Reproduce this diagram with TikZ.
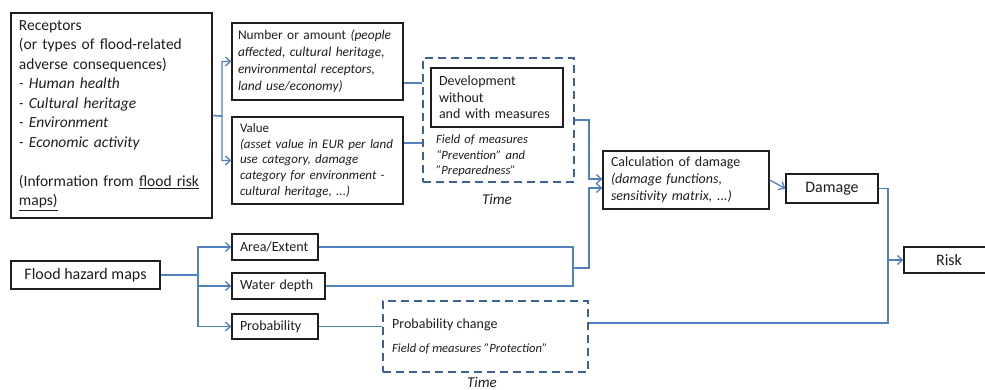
\documentclass[tikz,border=0pt]{standalone}
\usepackage{fontspec}
\setmainfont{Carlito}
\usetikzlibrary{arrows.meta,calc}
\definecolor{linkc}{RGB}{79,129,189}
\definecolor{dashc}{RGB}{60,98,148}
\definecolor{txtc}{RGB}{30,30,30}
\begin{document}
\begin{tikzpicture}[x=1pt,y=-1pt,
  box/.style={draw=txtc, line width=1.3pt, inner xsep=8pt, inner ysep=0pt, align=left, text=txtc, anchor=center},
  cbox/.style={draw=txtc, line width=1.3pt, inner sep=0pt, align=center, text=txtc, anchor=center},
  dbox/.style={draw=dashc, line width=2pt, dash pattern=on 8pt off 5pt, inner sep=0pt, anchor=center},
  plain/.style={inner sep=0pt, text=txtc, align=left},
  link/.style={draw=linkc, line width=1.3pt},
  arr/.style={link, -{Straight Barb[length=5pt,width=9pt]}},
  nohy/.style={execute at begin node={\hyphenpenalty=10000\exhyphenpenalty=10000}},
]
\useasboundingbox (0,0) rectangle (985,390);

% left receptor box
\node[box, nohy, minimum width=201pt, minimum height=205pt, text width=185pt,
      font=\fontsize{15.5}{19.5}\selectfont] (rec) at (111.5,115.5)
  {Receptors\\(or types of flood-related\\adverse consequences)\\
   \textit{- Human health}\\\textit{- Cultural heritage}\\\textit{- Environment}\\
   \textit{- Economic activity}\\[19.5pt]
   (Information from \underline{flood risk}\\\underline{maps)}};

\node[box, nohy, inner xsep=6pt, minimum width=171pt, minimum height=77pt, text width=159pt,
      font=\fontsize{13.4}{17}\selectfont] (num) at (317.5,61.5)
  {\mbox{Number or amount \textit{(people}}\\\textit{affected, cultural heritage,}\\
   \textit{environmental receptors,}\\\textit{land use/economy)}};

\node[box, nohy, minimum width=171pt, minimum height=87pt, text width=155pt,
      font=\fontsize{13}{15.8}\selectfont] (val) at (317.5,160.5)
  {Value\\\textit{(asset value in EUR per land}\\\textit{use category, damage}\\
   \textit{category for environment -}\\\textit{cultural heritage, ...)}};

% dashed box 1
\node[dbox, minimum width=151pt, minimum height=124pt] (dash1) at (498.5,120) {};
\node[box, nohy, minimum width=132pt, minimum height=59pt, text width=116pt,
      font=\fontsize{14}{16.5}\selectfont] (dev) at (497,97.5)
  {Development\\without\\and with measures};
\node[plain, nohy, anchor=base west, text width=130pt, font=\fontsize{12.6}{15.5}\selectfont\itshape]
  (field1) at (436,144) {Field of measures\\“Prevention” and\\"Preparedness"};
\node[plain, font=\fontsize{15}{18}\selectfont\itshape] (time1) at (497,199) {Time};

% calculation, damage, risk
\node[box, nohy, minimum width=166pt, minimum height=58pt, text width=150pt,
      font=\fontsize{14}{17}\selectfont] (calc) at (686,180)
  {Calculation of damage\\\textit{(damage functions,}\\\textit{sensitivity matrix, ...)}};
\node[cbox, minimum width=92pt, minimum height=29pt, font=\fontsize{16}{19}\selectfont]
  (dmg) at (832,188.5) {Damage};
\node[cbox, minimum width=90pt, minimum height=26pt, font=\fontsize{16}{19}\selectfont]
  (risk) at (949,260) {Risk};

% hazard branch
\node[cbox, minimum width=149pt, minimum height=28pt, font=\fontsize{16}{19}\selectfont]
  (fhm) at (85.5,275) {Flood hazard maps};
\node[box, minimum width=86pt, minimum height=26pt, text width=70pt,
      font=\fontsize{14}{17}\selectfont] (area) at (275,247) {Area/Extent};
\node[box, minimum width=93pt, minimum height=26pt, text width=77pt,
      font=\fontsize{14}{17}\selectfont] (wd) at (278.5,286) {Water depth};
\node[box, minimum width=86pt, minimum height=25pt, text width=70pt,
      font=\fontsize{14}{17}\selectfont] (prob) at (275,326.5) {Probability};

% dashed box 2
\node[dbox, minimum width=205pt, minimum height=71pt] (dash2) at (485.5,336.5) {};
\node[plain, anchor=base west, font=\fontsize{14}{17}\selectfont] (pc) at (392,328)
  {Probability change};
\node[plain, anchor=base west, font=\fontsize{12.6}{15}\selectfont\itshape] (pf) at (392,352)
  {Field of measures "Protection"};
\node[plain, font=\fontsize{15}{18}\selectfont\itshape] (time2) at (482,382) {Time};

% connectors
\coordinate (jr) at (222,116);
\coordinate (jc) at (589,0);
\coordinate (jb) at (573,0);
\coordinate (jd) at (888,0);
\coordinate (jh) at (198,0);

\draw[arr] (rec.east) -- (jr) |- (num.west);
\draw[arr] (rec.east) -- (jr) |- (val.west);
\draw[link] (num.east |- 0,83) -- (dash1.west |- 0,83);
\draw[link] (val.east |- 0,143) -- (dash1.west |- 0,143);
\draw[arr] (dash1.east |- 0,120) -- (jc |- 0,120) -- (jc |- 0,179) -- (calc.west |- 0,179);
\draw[link] (area.east) -- (jb |- area.east) -- (jb |- wd.east) -- (wd.east);
\draw[arr] (jb |- 0,268) -- (jc |- 0,268) -- (jc |- 0,188) -- (calc.west |- 0,188);
\draw[arr] (calc.east) -- (dmg.west);
\draw[link] (dmg.east) -- (jd |- dmg.east) -- (jd |- 0,323) -- (dash2.east |- 0,323);
\draw[arr] (jd |- risk.west) -- (risk.west);
\draw[link] (fhm.east) -- (jh |- fhm.east);
\draw[arr] (jh |- fhm.east) |- (area.west);
\draw[arr] (jh |- fhm.east) |- (wd.west);
\draw[arr] (jh |- fhm.east) |- (prob.west);
\draw[link] (prob.east) -- (dash2.west |- prob.east);
\end{tikzpicture}
\end{document}
